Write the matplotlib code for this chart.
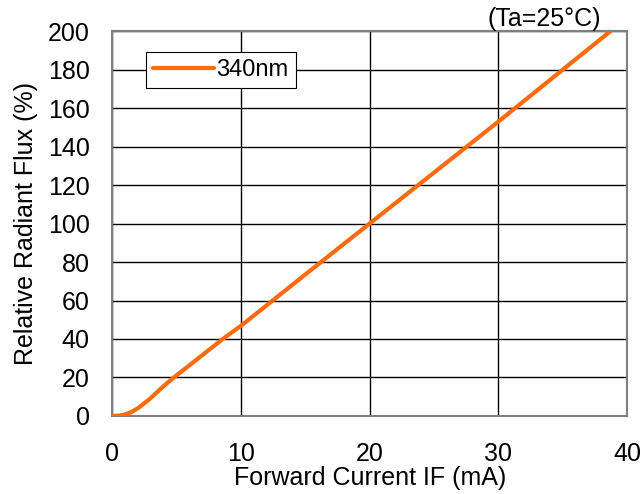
import matplotlib
matplotlib.use("Agg")
import matplotlib.pyplot as plt

plt.rcParams['font.family'] = ['Liberation Sans', 'DejaVu Sans']

# forward current (mA) vs relative radiant flux (%)
current_ma = [0, 0.6, 1, 1.5, 2, 2.9, 4, 4.8, 6, 8.6, 10, 15, 20, 25, 30, 35, 38.7]
flux_pct = [0, 0.2, 0.8, 2, 4, 8.7, 15.5, 20, 26.3, 40, 46.8, 73.5, 100, 126.5, 153, 180, 200]
series_label = '340nm'
x_ticks = [0, 10, 20, 30, 40]
y_ticks = list(range(0, 201, 20))

fig = plt.figure(figsize=(6.44, 4.94), dpi=100)
ax = fig.add_axes([0.174, 0.158, 0.800, 0.779])

ax.plot(current_ma, flux_pct, color='#FF6A0A', lw=3.0, label=series_label,
        solid_capstyle='round', solid_joinstyle='round', zorder=3)

ax.set_xlim(0, 40)
ax.set_ylim(0, 200)
ax.set_xticks(x_ticks)
ax.set_yticks(y_ticks)
ax.grid(True, color='black', lw=1.0)
ax.tick_params(length=0, labelsize=18, colors='black')
ax.tick_params(axis='y', pad=16)
ax.tick_params(axis='x', pad=19)
for s in ax.spines.values():
    s.set_color('#7f7f7f')
    s.set_linewidth(1.5)

ax.set_xlabel('Forward Current IF (mA)', fontsize=18, labelpad=0)
ax.set_ylabel('Relative Radiant Flux (%)', fontsize=18, labelpad=7)

leg = ax.legend(loc='upper left', bbox_to_anchor=(0.065, 0.945), fontsize=17,
                fancybox=False, edgecolor='black', framealpha=1,
                handlelength=2.6, handletextpad=0.1, borderpad=0.3,
                borderaxespad=0)
leg.get_frame().set_linewidth(0.8)

fig.text(0.845, 0.962, '(Ta=25°C)', fontsize=18, ha='center', va='center')

fig.savefig('out.png', dpi=100)
